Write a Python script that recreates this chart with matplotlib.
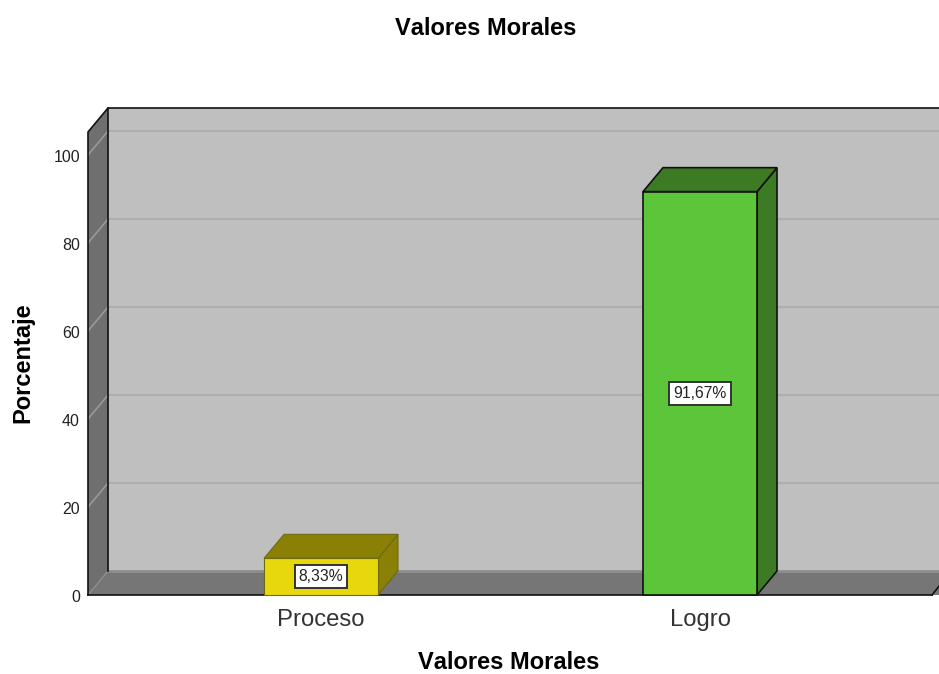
import numpy as np
import matplotlib
matplotlib.use('Agg')
import matplotlib.pyplot as plt
from matplotlib.patches import Polygon
from matplotlib.transforms import ScaledTranslation

plt.rcParams['font.family'] = ['Liberation Sans', 'DejaVu Sans']
plt.rcParams['text.kerning_factor'] = 6

TITLE = 'Valores Morales'
categories = ['Proceso', 'Logro']
values = [8.33, 91.67]
labels = ['8,33%', '91,67%']
y_ticks = [0, 20, 40, 60, 80, 100]

W, H = 939, 674
FRONT = ['#e6d80c', '#5cc53a']
SIDE = ['#8a8005', '#3c7a24']

fig = plt.figure(figsize=(W / 100, H / 100), dpi=100)
# front plane: y=0 at pixel 595, 4.4 px per unit, categories 379 px apart
ax = fig.add_axes([88 / W, (H - 595) / H, (W - 88) / W, (595 - 108) / H])
ax.set_xlim((88 - 321) / 379, (W - 321) / 379)
ax.set_ylim(0, 487 / 4.4)

dx = 20 / 379
dy = 24 / 4.4
bar_w = 114 / 379
x0 = ax.get_xlim()[0]
x1 = 2.0
top = (487 - 24) / 4.4


def poly(pts, color, edge='none', lw=0, z=1):
    ax.add_patch(Polygon(pts, closed=True, facecolor=color, edgecolor=edge,
                         linewidth=lw, joinstyle='miter', zorder=z, clip_on=False))


# back wall, left wall, floor
poly([(x0 + dx, dy), (x1, dy), (x1, top + dy), (x0 + dx, top + dy)], '#bfbfbf')
poly([(x0, 0), (x0 + dx, dy), (x0 + dx, top + dy), (x0, top)], '#6f6f6f')
poly([(x0, 0), (x1, 0), (x1 + dx, dy), (x0 + dx, dy)], '#767676')

# grid on the walls
for t in y_ticks[1:]:
    ax.plot([x0 + dx, x1], [t + dy, t + dy], color='#aeaeae', lw=1.5, zorder=2)
    ax.plot([x0, x0 + dx], [t, t + dy], color='#9a9a9a', lw=1.2, zorder=2)
ax.plot([x0 + dx, x1], [dy, dy], color='#8e8e8e', lw=2, zorder=2)
ax.plot([x0, x0 + dx], [0, dy], color='#8e8e8e', lw=1, zorder=2)

# frame
k = {'color': '#111111', 'lw': 1.2, 'zorder': 3, 'clip_on': False}
ax.plot([x0, x0, x0 + dx, x1], [0, top, top + dy, top + dy], **k)
ax.plot([x0 + dx, x0 + dx], [dy, top + dy], **k)
ax.plot([x0, (932 - 321) / 379], [0, 0], **k)
ax.plot([(932 - 321) / 379, (940 - 321) / 379], [0, 10 / 4.4], **k)

# bars
for i, v in enumerate(values):
    l, r = i - bar_w / 2, i + bar_w / 2
    has_edge = i == 1
    edge = '#111111' if has_edge else '#6f6a10'
    lw = 1.2 if has_edge else 0.8
    poly([(r, 0), (r + dx, dy), (r + dx, v + dy), (r, v)], SIDE[i], edge, lw, 4)
    poly([(l, v), (r, v), (r + dx, v + dy), (l + dx, v + dy)], SIDE[i], edge, lw, 4)
    poly([(l, 0), (r, 0), (r, v), (l, v)], FRONT[i], edge, lw, 5)
    ax.text(i, v / 2, labels[i], ha='center', va='center', fontsize=11.3,
            color='#222222', zorder=6,
            bbox=dict(boxstyle='square,pad=0.25', fc='white', ec='#333333', lw=1.4))

ax.patch.set_visible(False)
for s in ax.spines.values():
    s.set_visible(False)
ax.set_xticks(range(len(categories)))
ax.set_xticklabels(categories, fontsize=17.2, color='#333333', va='baseline')
ax.set_yticks(y_ticks)
ax.tick_params(axis='x', length=0, pad=22.3)
ax.tick_params(axis='y', length=0, pad=5.8, labelsize=11.5, labelcolor='#222222')

# tick labels sit a little under the gridline ends
shift = ScaledTranslation(0, -1.5 / 100, fig.dpi_scale_trans)
for lab in ax.get_yticklabels():
    lab.set_transform(lab.get_transform() + shift)

fig.text(486 / W, 1 - 35 / H, TITLE, ha='center', va='baseline', fontsize=17, fontweight='bold')
fig.text(509 / W, 1 - 669 / H, TITLE, ha='center', va='baseline', fontsize=17, fontweight='bold')
fig.text(29 / W, 1 - 363 / H, 'Porcentaje', ha='center', va='baseline', rotation=90,
         rotation_mode='anchor', fontsize=17, fontweight='bold')

fig.savefig('out.png', dpi=100)
